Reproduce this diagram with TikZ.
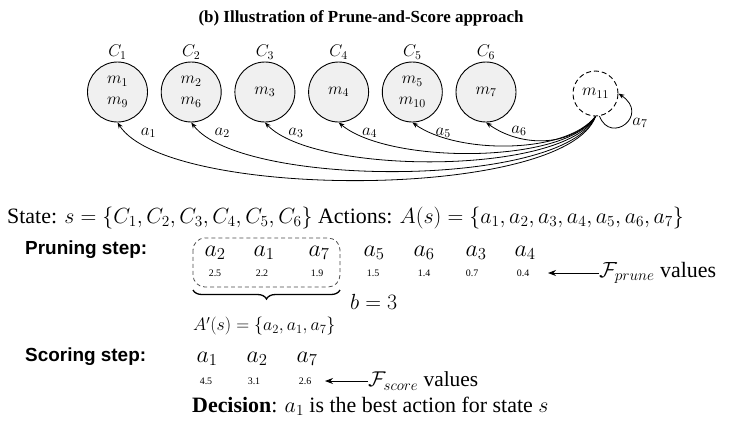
\RequirePackage{fix-cm}
\documentclass[tikz,border=0pt]{standalone}
\usepackage{fontspec}
\setmainfont{Liberation Serif}
\newfontfamily\hsans{Liberation Sans}
\usetikzlibrary{arrows.meta,decorations.pathreplacing}
\newcommand\fs[1]{\fontsize{#1}{#1}\selectfont}
\begin{document}
\begin{tikzpicture}[x=1bp,y=-1bp,
  cnode/.style={circle,draw=black,line width=0.9pt,fill=gray!12,minimum size=60bp,inner sep=0pt,align=center,font=\fontsize{17}{21}\selectfont},
  dnode/.style={circle,draw=black,dash pattern=on 5pt off 3pt,line width=0.9pt,minimum size=45bp,inner sep=0pt,font=\fs{17}},
  arr/.style={-{Stealth[length=6bp,width=4.5bp]},line width=0.8pt},
  lab/.style={inner sep=0pt,font=\fs{17}},
  txt/.style={inner sep=0pt,anchor=west},
  pa/.style={inner sep=0pt,font=\fs{24}},
  pv/.style={inner sep=0pt,font=\fs{10}},
  stepl/.style={inner sep=0pt,anchor=west,font=\hsans\bfseries\fs{19}},
]
\fill[white] (0,0) rectangle (731,420);
\useasboundingbox (0,0) rectangle (731,420);

\node[inner sep=0pt,font=\fs{17}\bfseries] (title) at (361,18) {(b) Illustration of Prune-and-Score approach};

% clusters
\node[cnode] (c1) at (117.5,92) {$m_1$\\$m_9$};
\node[cnode] (c2) at (191.2,92) {$m_2$\\$m_6$};
\node[cnode] (c3) at (264.9,92) {$m_3$};
\node[cnode] (c4) at (338.6,92) {$m_4$};
\node[cnode] (c5) at (412.3,92) {$m_5$\\$m_{10}$};
\node[cnode] (c6) at (486,92) {$m_7$};
\node[dnode] (m11) at (595.5,93.5) {$m_{11}$};

\node[lab] (l1) at (117.5,52) {$C_1$};
\node[lab] (l2) at (191.2,52) {$C_2$};
\node[lab] (l3) at (264.9,52) {$C_3$};
\node[lab] (l4) at (338.6,52) {$C_4$};
\node[lab] (l5) at (412.3,52) {$C_5$};
\node[lab] (l6) at (486,52) {$C_6$};

\draw[arr] (m11.south) .. controls +(-30,84) and +(50,78) .. (c1.south);
\draw[arr] (m11.south) .. controls +(-30,72) and +(50,66) .. (c2.south);
\draw[arr] (m11.south) .. controls +(-30,59) and +(50,53) .. (c3.south);
\draw[arr] (m11.south) .. controls +(-30,48) and +(50,42) .. (c4.south);
\draw[arr] (m11.south) .. controls +(-30,38) and +(45,32) .. (c5.south);
\draw[arr] (m11.south) .. controls +(-25,31) and +(35,25) .. (c6.south);
\draw[arr] (m11.-80) .. controls +(11,29) and +(32,21.5) .. (m11.east);

\node[lab] (a1) at (148.5,133) {$a_1$};
\node[lab] (a2) at (222.2,133) {$a_2$};
\node[lab] (a3) at (295.9,133) {$a_3$};
\node[lab] (a4) at (369.6,133) {$a_4$};
\node[lab] (a5) at (443.3,133) {$a_5$};
\node[lab] (a6) at (519,131) {$a_6$};
\node[lab] (a7) at (640,123) {$a_7$};

% state line
\node[txt,font=\fs{22}] (state) at (7,218) {State: $s=\{C_1,C_2,C_3,C_4,C_5,C_6\}$ Actions: $A(s)=\{a_1,a_2,a_3,a_4,a_5,a_6,a_7\}$};

% pruning step
\node[stepl] (pl) at (25,250) {Pruning step:};
\draw[gray!60!black,line width=0.8pt,dash pattern=on 4pt off 3pt,rounded corners=12bp] (193,238) rectangle (340,287);
\node[pa] (p1) at (215,253) {$a_2$};
\node[pa] (p2) at (264,253) {$a_1$};
\node[pa] (p3) at (319,253) {$a_7$};
\node[pa] (p4) at (374,253) {$a_5$};
\node[pa] (p5) at (424,253) {$a_6$};
\node[pa] (p6) at (476,253) {$a_3$};
\node[pa] (p7) at (525,253) {$a_4$};
\node[pv] (v1) at (215,273) {2.5};
\node[pv] (v2) at (262,273) {2.2};
\node[pv] (v3) at (317,273) {1.9};
\node[pv] (v4) at (373,273) {1.5};
\node[pv] (v5) at (424,273) {1.4};
\node[pv] (v6) at (472,273) {0.7};
\node[pv] (v7) at (523,273) {0.4};
\node[txt,font=\fs{22}] (fp) at (599,273) {$\mathcal{F}_{prune}$ values};
\coordinate (fptip) at (548,273);
\draw[-{Stealth[length=8bp,width=6bp]},line width=0.9pt] (fp.west) -- (fptip);
\draw[decorate,decoration={brace,amplitude=9bp},line width=1.3pt] (340,290) -- (193,290);
\node[txt,font=\fs{22}] (b) at (350,302) {$b=3$};
\node[txt,font=\fs{18}] (ap) at (193,326) {$A'(s)=\{a_2,a_1,a_7\}$};

% scoring step
\node[stepl] (sl) at (25,357) {Scoring step:};
\node[pa] (s1) at (207,359) {$a_1$};
\node[pa] (s2) at (257,359) {$a_2$};
\node[pa] (s3) at (307,359) {$a_7$};
\node[pv] (w1) at (206,381) {4.5};
\node[pv] (w2) at (254,381) {3.1};
\node[pv] (w3) at (305,381) {2.6};
\node[txt,font=\fs{21.5}] (fs) at (368,381) {$\mathcal{F}_{score}$ values};
\coordinate (fstip) at (325,381);
\draw[-{Stealth[length=8bp,width=6bp]},line width=0.9pt] (fs.west) -- (fstip);

\node[txt,font=\fs{22}] (dec) at (192,406) {\textbf{Decision}: $a_1$ is the best action for state $s$};
\end{tikzpicture}
\end{document}
